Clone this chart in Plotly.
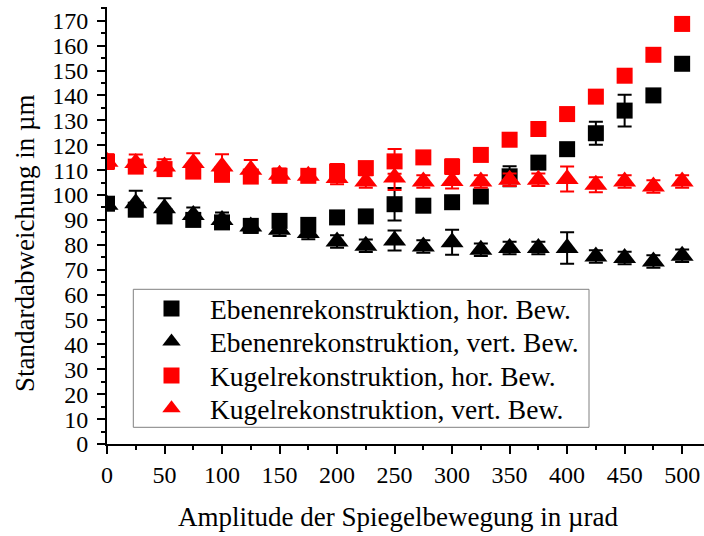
import plotly.graph_objects as go

amplitude = [0, 25, 50, 75, 100, 125, 150, 175, 200, 225, 250, 275, 300, 325, 350, 375, 400, 425, 450, 475, 500]

eben_hor = [96.5, 94.1, 91.4, 90.0, 89.0, 87.6, 89.6, 88.0, 91.0, 91.4, 96.3, 95.7, 97.1, 99.4, 107.5, 113.0, 118.4, 124.8, 133.9, 140.0, 152.7]
eben_hor_err = [2, 2, 2, 2, 2, 2, 2, 2, 2, 2, 6.5, 2, 2, 2, 4, 2, 2, 4.6, 6.4, 2, 2]

eben_vert = [96.1, 96.7, 94.7, 92.0, 90.0, 87.3, 86.0, 84.7, 81.3, 79.6, 81.7, 79.3, 81.0, 78.0, 78.7, 78.7, 78.7, 75.3, 74.7, 73.3, 75.6]
eben_vert_err = [2, 5, 4, 3, 3, 2.5, 2.5, 2.5, 2.5, 2.5, 4, 2.5, 5, 2.5, 2.5, 2.5, 6.3, 2.5, 2.5, 2.5, 2.5]

kugel_hor = [113.4, 111.4, 110.4, 109.4, 108.1, 107.4, 107.7, 107.7, 109.4, 110.8, 113.5, 115.1, 111.4, 116.1, 122.2, 126.5, 132.5, 139.5, 147.9, 156.3, 168.7]
kugel_hor_err = [2, 2, 2, 2, 2, 2, 2, 2, 3, 2, 5, 2, 3, 2, 2, 2, 2, 2, 2, 2, 2]

kugel_vert = [113.4, 112.8, 111.4, 112.8, 111.4, 110.1, 108.1, 107.7, 106.8, 105.4, 107.0, 105.4, 105.6, 105.4, 106.1, 106.1, 106.4, 104.1, 105.4, 103.4, 105.4]
kugel_vert_err = [3, 3.5, 3, 4, 5, 4, 2.5, 2.5, 2.5, 2.5, 5, 2.5, 3, 2.5, 2.5, 2.5, 5, 3, 2.5, 2.5, 2.5]

names = [
    "Ebenenrekonstruktion, hor. Bew.",
    "Ebenenrekonstruktion, vert. Bew.",
    "Kugelrekonstruktion, hor. Bew.",
    "Kugelrekonstruktion, vert. Bew.",
]
x_title = "Amplitude der Spiegelbewegung in µrad"
y_title = "Standardabweichung in µm"

FONT = "Liberation Serif"

series = [
    (eben_hor, eben_hor_err, "square", "black", 16),
    (eben_vert, eben_vert_err, "triangle-up", "black", 20),
    (kugel_hor, kugel_hor_err, "square", "red", 16),
    (kugel_vert, kugel_vert_err, "triangle-up", "red", 20),
]

# plot area in pixels: x 107..704, y 7..444
L, R, T, B = 107, 704, 7, 444
PW, PH = R - L, B - T

def px_x(p):
    return (p - L) / PW

def px_y(p):
    return (B - p) / PH

legend_keys = ["legend", "legend2", "legend3", "legend4"]
row_centers = [308.7, 341.7, 375.7, 408.3]

fig = go.Figure()
for i, (vals, errs, sym, col, sz) in enumerate(series):
    fig.add_trace(go.Scatter(
        x=amplitude, y=vals, mode="markers", name=names[i],
        legend=legend_keys[i],
        marker=dict(symbol=sym, color=col, size=sz, line=dict(width=0)),
        error_y=dict(type="data", array=errs, visible=True, color=col, thickness=2, width=7),
    ))

legend_layout = {}
for i, key in enumerate(legend_keys):
    legend_layout[key] = dict(
        x=px_x(133), y=px_y(row_centers[i]), xanchor="left", yanchor="middle",
        bgcolor="rgba(0,0,0,0)", borderwidth=0,
        font=dict(family=FONT, size=27.5, color="black"),
        itemwidth=67,
    )

fig.update_layout(
    width=704, height=536,
    margin=dict(l=L, r=704 - R, t=T, b=536 - B),
    paper_bgcolor="white", plot_bgcolor="white",
    font=dict(family=FONT, size=24, color="black"),
    showlegend=True,
    shapes=[dict(type="rect", xref="paper", yref="paper",
                 x0=px_x(133.3), x1=px_x(589), y0=px_y(427.3), y1=px_y(289.3),
                 line=dict(color="#808080", width=1), fillcolor="white", layer="above")],
    annotations=[
        dict(text=x_title, xref="paper", yref="paper",
             x=px_x(398), y=px_y(517), xanchor="center", yanchor="middle",
             showarrow=False, font=dict(family=FONT, size=27, color="black")),
        dict(text=y_title, xref="paper", yref="paper", textangle=-90,
             x=px_x(25), y=px_y(243), xanchor="center", yanchor="middle",
             showarrow=False, font=dict(family=FONT, size=27, color="black")),
    ],
    **legend_layout,
)

fig.update_xaxes(
    range=[0, 519], showgrid=False, zeroline=False,
    showline=True, linecolor="black", linewidth=2,
    ticks="outside", ticklen=8, tickwidth=2, tickcolor="black",
    tick0=0, dtick=50,
    minor=dict(ticks="outside", ticklen=4, tickwidth=2, tickcolor="black", dtick=25, showgrid=False),
    tickfont=dict(family=FONT, size=24),
)
fig.update_yaxes(
    range=[0, 175.5], showgrid=False, zeroline=False,
    showline=True, linecolor="black", linewidth=2,
    ticks="outside", ticklen=8, tickwidth=2, tickcolor="black",
    tick0=0, dtick=10, ticklabelstandoff=4,
    minor=dict(ticks="outside", ticklen=4, tickwidth=2, tickcolor="black", dtick=5, showgrid=False),
    tickfont=dict(family=FONT, size=24),
)

fig.write_html("out.html")
